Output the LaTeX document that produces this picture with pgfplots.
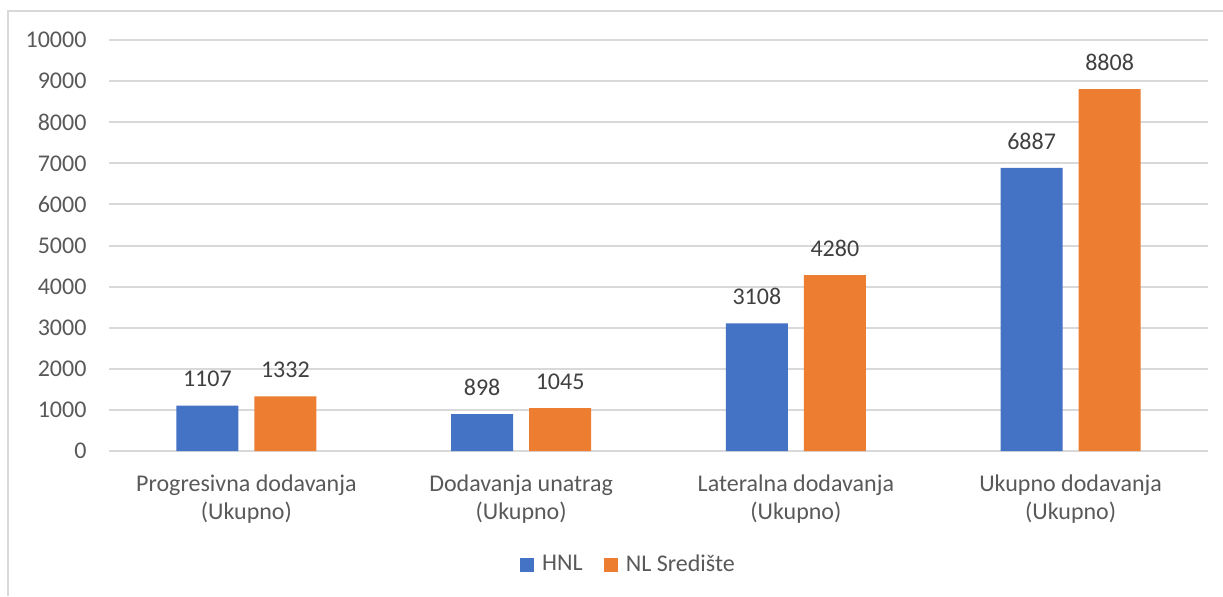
\documentclass[border=0pt]{standalone}
\usepackage{fontspec}
\setmainfont{Carlito}
\usepackage{pgfplots}
\pgfplotsset{compat=1.18}
\definecolor{cblue}{HTML}{4472C4}
\definecolor{corange}{HTML}{ED7D31}
\definecolor{ctext}{HTML}{595959}
\definecolor{clabel}{HTML}{404040}
\definecolor{cgrid}{HTML}{D9D9D9}
\begin{document}
\fontsize{9pt}{10.5pt}\selectfont
\begin{tikzpicture}
\useasboundingbox (0pt,0pt) rectangle (458.625pt,223.5pt);
\draw[cgrid, line width=0.5pt] (3pt,0pt) -- (3pt,219.375pt) -- (458.625pt,219.375pt);
\begin{axis}[
  at={(40.875pt,54.375pt)}, anchor=south west,
  scale only axis, width=412.125pt, height=154.125pt,
  xmin=-0.5, xmax=3.5, ymin=0, ymax=10000,
  enlargelimits=false, clip=false,
  ybar=6pt, bar width=23.25pt,
  xtick={0,1,2,3},
  xticklabels={{Progresivna dodavanja\\(Ukupno)},{Dodavanja unatrag\\(Ukupno)},{Lateralna dodavanja\\(Ukupno)},{Ukupno dodavanja\\(Ukupno)}},
  ytick={0,1000,...,10000},
  scaled y ticks=false,
  ymajorgrids, grid style={cgrid, line width=0.75pt},
  axis line style={draw=none},
  major tick length=0pt,
  tick label style={text=ctext, font=\fontsize{9pt}{10.5pt}\selectfont},
  yticklabel style={anchor=east, inner sep=0pt, xshift=-8.25pt},
  xticklabel style={anchor=north, align=center, inner sep=0pt, yshift=-8.7pt},
  /pgf/number format/1000 sep={},
  /pgf/number format/assume math mode=true,
  nodes near coords,
  nodes near coords style={text=clabel, anchor=south, inner sep=0pt, yshift=6.75pt, font=\fontsize{9pt}{10.5pt}\selectfont},
  legend columns=-1,
  legend style={draw=none, fill=none, at={(0.4718,-0.2774)}, anchor=center,
    inner sep=0pt, nodes={inner sep=0pt, text=ctext},
    font=\fontsize{9pt}{10.5pt}\selectfont,
    /tikz/every odd column/.append style={column sep=3pt},
    /tikz/every even column/.append style={column sep=7.9pt}},
  legend image code/.code={\fill[#1] (0pt,-2.625pt) rectangle (5.25pt,2.625pt);},
]
\addplot[fill=cblue, draw=none] coordinates {(0,1107) (1,898) (2,3108) (3,6887)};
\addplot[fill=corange, draw=none] coordinates {(0,1332) (1,1045) (2,4280) (3,8808)};
\legend{HNL, NL Središte}
\end{axis}
\end{tikzpicture}
\end{document}
